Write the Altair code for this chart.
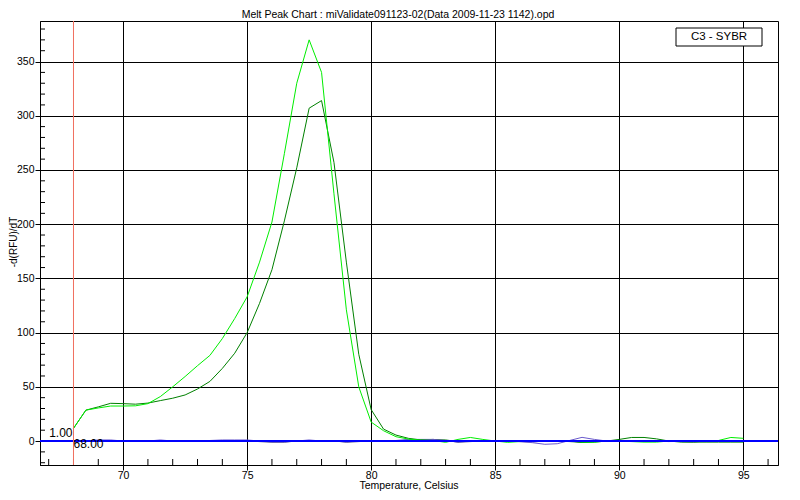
import altair as alt
import pandas as pd

# ---- data ----
temps = [68.0, 68.5, 69.0, 69.5, 70.0, 70.5, 71.0, 71.5, 72.0,
         72.5, 73.0, 73.5, 74.0, 74.5, 75.0, 75.5, 76.0, 76.5, 77.0,
         77.5, 78.0, 78.5, 79.0, 79.5, 80.0, 80.5, 81.0, 81.5, 82.0,
         82.5, 83.0, 83.5, 84.0, 84.5, 85.0, 85.5, 86.0, 86.5, 87.0,
         87.5, 88.0, 88.5, 89.0, 89.5, 90.0, 90.5, 91.0, 91.5, 92.0,
         92.5, 93.0, 93.5, 94.0, 94.5, 95.0]

light_green = [11.7, 28.5, 30.5, 32.3, 32.3, 32.5, 34.5, 41.0, 50.0,
               59.5, 69.5, 79.0, 94.5, 113.0, 133.0, 165.0, 202.0, 265.0, 330.0,
               370.0, 340.0, 228.0, 121.0, 50.0, 17.5, 9.5, 4.0, 1.8, 0.8,
               0.5, -1.2, 1.5, 3.3, 1.5, 0.0, -1.2, -0.5, 0.0, 0.0,
               0.0, 0.5, -1.0, -1.0, 0.0, 0.0, -0.5, -1.0, -1.0, 0.0,
               0.0, 0.0, 0.0, 0.5, 3.3, 2.5]

dark_green = [11.7, 28.5, 31.5, 34.8, 34.5, 34.0, 35.0, 37.3, 39.5,
              42.5, 48.0, 55.0, 67.0, 81.0, 100.0, 127.0, 158.0, 203.0, 252.0,
              307.0, 314.0, 257.0, 165.0, 80.0, 29.0, 11.0, 5.5, 2.5, 1.0,
              0.5, 1.0, -0.5, 0.0, 0.0, 0.0, 0.0, 0.0, 0.0, 0.0,
              0.0, -0.5, -1.2, -1.0, 0.0, 1.5, 3.3, 3.3, 2.0, 0.0,
              -1.0, -1.0, -1.0, -1.0, -1.0, -1.0]

purple = [0, 0, 1, 1, 0, 0, 0, 1, 0,
          0, 0, 0.5, 1, 1, 1, 0, -0.8, -0.8, 0,
          1, 0, 0, -0.8, 0, 0, 0, 0.5, 1.5, 1.5,
          1.5, 0.5, -1, 0, 0, 0, 0, -0.5, -1.5, -3,
          -2.5, 0.5, 3.4, 1.5, 0, 0, 0, 0, 0, -0.5,
          0, 0, 0, 0, 0, 0]

navy = [0, 0, 0, 0, -0.3, 0, 0, 0, 0,
        0, 0, 0, 0, 0, 0, -0.5, -1, -1, 0,
        0, 0, 0, -1, -0.5, 0, 0, 0, 1, 1,
        1.5, 0.5, -1, -0.5, 0, 0, 0, -0.5, -0.8, 0,
        0, 0, -1.2, -0.5, 0, 0, 0, 0, 0, 0,
        -0.5, -0.8, 0, 0, 0, 0]

x_major = [70, 75, 80, 85, 90, 95]
y_major = [0, 50, 100, 150, 200, 250, 300, 350]
x_minor = [67, 68, 69, 71, 72, 73, 74, 76, 77, 78, 79, 81, 82, 83, 84,
           86, 87, 88, 89, 91, 92, 93, 94, 96]
y_minor = [-20, -10, 10, 20, 30, 40, 60, 70, 80, 90, 110, 120, 130, 140,
           160, 170, 180, 190, 210, 220, 230, 240, 260, 270, 280, 290,
           310, 320, 330, 340, 360, 370, 380]

title_text = "Melt Peak Chart : miValidate091123-02(Data 2009-11-23 1142).opd"
x_title = "Temperature, Celsius"
y_title = "-d(RFU)/dT"
legend_text = "C3 - SYBR"
marker_x = 68.0

# ---- layout ----
W, H = 738, 444
F = "Liberation Sans"
xs = alt.Scale(domain=[66.65, 96.4], nice=False, zero=False)
ys = alt.Scale(domain=[-22.1, 387.4], nice=False, zero=False)

xaxis = alt.Axis(values=x_major, title=None, grid=True, gridColor="black",
                 gridOpacity=1, gridWidth=1, domainColor="black", tickColor="black",
                 tickSize=5, labelFont=F, labelFontSize=10.5, labelColor="black",
                 labelPadding=0, format="d")
yaxis = alt.Axis(values=y_major, title=None, grid=True, gridColor="black",
                 gridOpacity=1, gridWidth=1, domainColor="black", tickColor="black",
                 tickSize=5, labelFont=F, labelFontSize=10.5, labelColor="black",
                 labelPadding=1, format="d")

X = alt.X("T:Q", scale=xs, axis=xaxis)
Y = alt.Y("v:Q", scale=ys, axis=yaxis)

def series_df(vals):
    return pd.DataFrame({"T": temps, "v": vals})

one = pd.DataFrame({"k": [0]})

x_ticks = alt.Chart(pd.DataFrame({"T": x_minor})).mark_rule(
    color="black", strokeWidth=1).encode(x=X, y=alt.value(H - 6), y2=alt.value(H))
y_ticks = alt.Chart(pd.DataFrame({"v": y_minor})).mark_rule(
    color="black", strokeWidth=1).encode(y=Y, x=alt.value(0), x2=alt.value(5))

def line(vals, color, w=1):
    return alt.Chart(series_df(vals)).mark_line(
        color=color, strokeWidth=w, clip=True).encode(x=X, y=Y)

l_navy = line(navy, "#202060")
l_purple = line(purple, "#6a5acd")
l_dark = line(dark_green, "#008000")
l_light = line(light_green, "#00ee00")

zero_line = alt.Chart(pd.DataFrame({"v": [0]})).mark_rule(
    color="#0000ff", strokeWidth=2).encode(y=Y, x=alt.value(0), x2=alt.value(W))
marker = alt.Chart(pd.DataFrame({"T": [marker_x]})).mark_rule(
    color="#f07060", strokeWidth=1).encode(x=X, y=alt.value(0), y2=alt.value(H))

lbl_y = alt.Chart(pd.DataFrame({"T": [marker_x], "v": [0]})).mark_text(
    align="right", baseline="alphabetic", dx=-1, dy=-4, fontSize=12, font=F,
    color="black").encode(x=X, y=Y, text=alt.value("1.00"))
lbl_x = alt.Chart(pd.DataFrame({"T": [marker_x], "v": [0]})).mark_text(
    align="left", baseline="alphabetic", dx=0, dy=7, fontSize=12, font=F,
    color="black").encode(x=X, y=Y, text=alt.value("68.00"))

title = alt.Chart(one).mark_text(
    align="center", baseline="alphabetic", fontSize=10.5, font=F, color="black"
).encode(x=alt.value(358), y=alt.value(-3.5), text=alt.value(title_text))
xt = alt.Chart(one).mark_text(
    align="center", baseline="alphabetic", fontSize=10.5, font=F, color="black"
).encode(x=alt.value(369), y=alt.value(468), text=alt.value(x_title))
yt = alt.Chart(one).mark_text(
    align="center", baseline="middle", angle=270, fontSize=10, font=F, color="black"
).encode(x=alt.value(-26.5), y=alt.value(221), text=alt.value(y_title))

leg_box = alt.Chart(one).mark_rect(
    fill="white", stroke="black", strokeWidth=1).encode(
    x=alt.value(636), x2=alt.value(722), y=alt.value(7), y2=alt.value(25))
leg_text = alt.Chart(one).mark_text(
    align="center", baseline="middle", fontSize=11.5, font=F, color="black"
).encode(x=alt.value(679), y=alt.value(16), text=alt.value(legend_text))

chart = alt.layer(
    x_ticks, y_ticks, l_navy, l_purple, l_dark, l_light, zero_line, marker,
    lbl_y, lbl_x, title, xt, yt, leg_box, leg_text
).properties(
    width=W, height=H,
    autosize=alt.AutoSizeParams(type="none"),
    padding={"left": 32, "top": 13, "right": 14, "bottom": 26},
    background="white",
).configure_view(stroke="black", strokeWidth=1)

chart.save("out.html", embed_options={"renderer": "svg", "actions": False})
